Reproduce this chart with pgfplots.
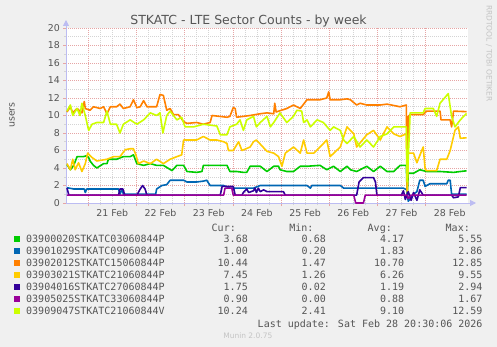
\documentclass[border=0pt]{standalone}
\usepackage{pgfplots}
\pgfplotsset{compat=1.18}
\usepackage{fontspec}
\setmainfont{DejaVu Sans}
\newfontfamily\monofont{DejaVu Sans Mono}
\usetikzlibrary{arrows.meta}

\definecolor{cgreen}{HTML}{00CC00}
\definecolor{cblue}{HTML}{0066B3}
\definecolor{corange}{HTML}{FF8000}
\definecolor{cyellow}{HTML}{FFCC00}
\definecolor{cdblue}{HTML}{330099}
\definecolor{cpurple}{HTML}{990099}
\definecolor{clime}{HTML}{CCFF00}
\definecolor{bgcol}{HTML}{F0F0F0}
\definecolor{txtcol}{HTML}{555555}
\definecolor{mgrid}{HTML}{E6A5A5}
\definecolor{ngrid}{HTML}{D4D4D4}
\definecolor{axcol}{HTML}{BCBCF2}
\definecolor{faint}{HTML}{C4C4C4}

\newcommand{\tickfont}{\fontsize{9.4}{11}\selectfont}
\newcommand{\legfont}{\monofont\fontsize{10}{12}\selectfont}

\begin{document}
\begin{tikzpicture}[x=1pt,y=1pt]
\fill[bgcol] (0pt,0pt) rectangle (497pt,-347pt);
\path[use as bounding box] (0pt,0pt) rectangle (497pt,-347pt);

\begin{axis}[
  at={(66pt,-203pt)}, anchor=south west,
  scale only axis, width=402pt, height=175pt,
  xmin=20.54, xmax=28.88, ymin=0, ymax=20,
  axis background/.style={fill=white},
  axis x line*=bottom, axis y line*=left,
  axis line style={draw=axcol, line width=0.8pt},
  x axis line style={-{Triangle[length=6pt,width=6pt]}, shorten >=-8pt},
  y axis line style={-{Triangle[length=6pt,width=6pt]}, shorten >=-8pt},
  xtick={21,...,28},
  xticklabels={21 Feb,22 Feb,23 Feb,24 Feb,25 Feb,26 Feb,27 Feb,28 Feb},
  minor x tick num=3,
  ytick={0,2,...,20}, minor y tick num=1,
  grid=both,
  major grid style={draw=mgrid, dash pattern=on 1pt off 1pt, line width=0.5pt},
  minor grid style={draw=ngrid, dash pattern=on 1pt off 1pt, line width=0.5pt},
  tick align=outside, major tick length=3pt, minor tick length=2pt,
  major tick style={draw=mgrid, line width=0.5pt},
  minor tick style={draw=ngrid, line width=0.5pt},
  /pgf/number format/assume math mode=true,
  x tick label style={font=\tickfont, text=txtcol, inner sep=0pt, anchor=north, xshift=24.1pt, yshift=-3pt},
  y tick label style={font=\tickfont, text=txtcol, inner sep=0pt, anchor=east, xshift=-3pt},
  every axis plot/.append style={line width=1.6pt, line join=round, no markers},
]
% 03900020STKATC03060844P
\addplot[cgreen] coordinates {(20.56,4.4)(20.63,3.8)(20.70,4.3)(20.77,5.3)(20.90,5.3)(20.97,5.4)(21.01,5.2)(21.04,4.8)(21.11,4.3)(21.18,4.0)(21.32,4.5)(21.39,4.5)(21.42,5.0)(21.59,5.0)(21.73,5.3)(21.87,5.3)(21.94,5.5)(22.01,4.5)(22.15,4.3)(22.29,4.5)(22.42,4.3)(22.56,4.3)(22.74,3.7)(22.84,4.3)(22.98,4.3)(23.05,3.6)(23.25,3.5)(23.36,3.6)(23.39,4.3)(23.67,4.3)(23.88,4.3)(23.94,3.6)(24.08,3.6)(24.22,3.5)(24.29,3.5)(24.36,4.2)(24.57,4.2)(24.71,3.6)(24.85,4.2)(24.95,4.2)(24.98,3.8)(25.12,3.6)(25.26,3.6)(25.40,4.2)(25.54,4.2)(25.81,4.3)(25.95,3.8)(26.09,4.2)(26.23,3.6)(26.37,4.2)(26.44,3.8)(26.57,3.6)(26.78,4.2)(26.92,3.6)(27.06,4.2)(27.20,3.6)(27.34,3.6)(27.47,4.3)(27.60,4.3)(27.62,0.68)(27.64,3.4)(27.75,3.4)(27.88,3.8)(28.02,3.6)(28.30,3.6)(28.58,3.5)(28.72,3.6)(28.85,3.68)};
% 03901029STKATC09060844P
\addplot[cblue] coordinates {(20.56,1.75)(20.70,1.6)(20.92,1.6)(20.94,1.2)(20.97,1.6)(21.18,1.6)(21.46,1.6)(21.63,1.6)(21.66,1.0)(21.70,1.6)(21.73,1.0)(22.40,1.0)(22.42,1.6)(22.53,2.0)(22.63,2.1)(22.70,2.6)(22.84,2.6)(22.98,2.6)(23.05,2.4)(23.25,2.4)(23.39,2.5)(23.46,2.6)(23.53,2.0)(23.81,2.0)(23.94,1.7)(24.22,1.7)(24.43,1.7)(24.57,2.0)(25.54,2.0)(25.61,1.7)(25.64,2.0)(26.23,2.0)(26.30,1.7)(27.54,1.7)(27.61,1.5)(27.64,0.2)(27.75,1.0)(27.82,1.3)(27.88,2.6)(27.95,2.6)(27.99,1.9)(28.09,2.2)(28.44,2.2)(28.47,2.6)(28.51,2.6)(28.54,1.0)(28.85,1.0)};
% 03902012STKATC15060844P
\addplot[corange] coordinates {(20.56,10.4)(20.63,11.0)(20.68,10.3)(20.77,10.8)(20.87,10.3)(20.92,11.6)(20.94,10.8)(21.04,10.6)(21.11,11.0)(21.25,10.8)(21.32,11.0)(21.39,10.2)(21.46,11.0)(21.59,11.0)(21.66,11.3)(21.73,10.8)(21.87,11.0)(21.94,11.8)(22.01,10.9)(22.08,11.0)(22.15,11.7)(22.22,11.0)(22.42,11.0)(22.49,12.4)(22.56,12.3)(22.63,10.6)(22.70,10.8)(22.77,10.1)(22.87,10.1)(22.98,9.3)(23.05,9.1)(23.25,9.2)(23.39,9.0)(23.53,9.2)(23.57,10.0)(23.88,9.8)(23.94,9.9)(24.01,10.9)(24.05,10.8)(24.08,9.8)(24.36,10.0)(24.57,10.2)(24.71,10.3)(24.85,10.2)(24.87,11.4)(24.90,10.4)(25.12,10.8)(25.26,11.2)(25.40,10.8)(25.54,11.8)(25.81,11.8)(25.95,12.0)(25.99,12.7)(26.02,11.8)(26.23,11.8)(26.37,11.9)(26.44,11.8)(26.57,11.2)(26.64,11.4)(26.78,11.2)(27.06,11.2)(27.20,11.3)(27.47,11.0)(27.60,11.2)(27.62,1.47)(27.64,9.9)(27.68,10.1)(27.95,10.1)(28.02,10.5)(28.30,10.5)(28.32,9.5)(28.51,9.5)(28.54,8.7)(28.58,10.5)(28.85,10.44)};
% 03903021STKATC21060844P
\addplot[cyellow] coordinates {(20.56,4.5)(20.63,3.8)(20.68,5.0)(20.73,3.8)(20.80,4.6)(20.87,3.6)(20.94,4.5)(20.99,5.7)(21.08,5.2)(21.18,4.8)(21.39,5.0)(21.53,5.3)(21.66,5.3)(21.77,6.1)(21.87,6.2)(21.94,6.2)(21.99,5.5)(22.04,4.5)(22.15,4.8)(22.29,4.5)(22.42,5.0)(22.56,4.5)(22.70,5.0)(22.84,5.3)(22.94,5.5)(22.98,7.2)(23.25,7.2)(23.39,7.6)(23.53,7.2)(23.67,7.2)(23.81,7.0)(23.88,6.8)(23.91,6.0)(24.01,6.0)(24.12,7.0)(24.19,6.0)(24.36,6.4)(24.43,7.0)(24.49,7.2)(24.71,5.9)(24.85,5.7)(24.95,5.3)(25.02,4.2)(25.09,5.7)(25.26,6.4)(25.40,5.7)(25.47,7.2)(25.54,5.7)(25.68,5.7)(25.81,6.4)(25.95,7.2)(26.02,5.3)(26.23,6.4)(26.37,8.7)(26.51,7.9)(26.57,6.4)(26.78,7.8)(26.92,8.3)(27.06,7.2)(27.20,8.7)(27.34,7.9)(27.47,7.6)(27.60,7.9)(27.62,1.26)(27.64,5.7)(27.75,5.7)(27.82,4.6)(27.95,6.4)(27.99,3.9)(28.02,3.7)(28.23,3.7)(28.30,5.0)(28.44,5.0)(28.51,6.0)(28.61,8.3)(28.68,8.7)(28.72,7.4)(28.85,7.45)};
% 03904016STKATC27060844P
\addplot[cdblue] coordinates {(20.56,1.7)(20.60,0.9)(21.63,0.9)(21.66,1.6)(21.72,1.6)(21.76,0.9)(22.01,0.9)(22.08,1.6)(22.13,2.0)(22.18,1.6)(22.22,0.9)(23.74,0.9)(23.78,1.9)(24.01,1.9)(24.05,0.9)(24.19,0.9)(24.22,1.2)(24.29,1.6)(24.33,1.2)(24.43,1.4)(24.46,1.7)(24.49,1.2)(24.53,1.7)(24.57,1.3)(24.64,1.5)(24.71,1.3)(24.78,1.3)(25.05,1.3)(25.09,0.9)(26.57,0.9)(26.62,2.4)(26.71,2.9)(26.92,2.9)(26.96,2.4)(26.99,0.9)(27.50,0.9)(27.54,1.4)(27.58,0.4)(27.64,1.3)(27.70,0.3)(27.75,1.2)(27.82,0.3)(27.88,1.5)(27.95,0.9)(28.54,0.9)(28.58,0.6)(28.68,0.7)(28.72,1.75)(28.85,1.75)};
% 03905025STKATC33060844P
\addplot[cpurple] coordinates {(20.56,0.9)(23.81,0.9)(23.84,1.7)(23.98,1.7)(24.01,0.9)(26.51,0.9)(26.55,0.0)(26.71,0.0)(26.75,0.9)(27.62,0.9)(27.64,0.5)(27.70,0.9)(28.85,0.9)};
% 03909047STKATC21060844V
\addplot[clime] coordinates {(20.56,10.5)(20.63,11.2)(20.68,10.0)(20.77,10.8)(20.83,10.0)(20.87,11.4)(20.94,10.0)(21.01,8.3)(21.08,9.0)(21.18,9.2)(21.32,9.2)(21.39,10.5)(21.46,9.0)(21.59,9.0)(21.66,8.0)(21.73,9.0)(21.87,9.5)(22.01,9.0)(22.15,9.5)(22.29,10.3)(22.42,10.0)(22.49,10.3)(22.55,8.0)(22.63,10.0)(22.70,10.5)(22.84,9.5)(22.94,9.8)(23.01,8.7)(23.19,8.7)(23.39,9.0)(23.67,8.8)(23.74,7.8)(23.88,7.8)(23.94,8.7)(24.08,9.0)(24.15,9.5)(24.22,8.3)(24.29,9.5)(24.43,9.9)(24.49,8.7)(24.57,9.2)(24.71,9.9)(24.78,8.7)(24.85,9.2)(24.98,10.3)(25.12,9.2)(25.26,9.9)(25.33,10.6)(25.43,10.5)(25.47,9.2)(25.54,9.5)(25.61,8.7)(25.75,9.5)(25.88,9.2)(26.02,8.3)(26.09,8.7)(26.23,8.3)(26.30,7.2)(26.37,6.8)(26.51,7.6)(26.64,6.4)(26.78,7.2)(26.92,6.4)(27.06,7.6)(27.20,7.9)(27.34,8.7)(27.60,8.7)(27.62,2.41)(27.68,10.3)(27.95,10.3)(27.99,10.8)(28.16,10.8)(28.23,9.9)(28.30,11.4)(28.47,12.5)(28.54,9.9)(28.61,8.7)(28.72,9.5)(28.85,10.24)};
\end{axis}

% title and side texts
\node[anchor=base, text=txtcol, font=\fontsize{12.5}{15}\selectfont, inner sep=0pt] at (248.5pt,-24.5pt) {STKATC - LTE Sector Counts - by week};
\node[rotate=90, text=txtcol, font=\tickfont, inner sep=0pt] at (12pt,-115pt) {users};
\node[rotate=-90, anchor=west, text=faint, font=\fontsize{7.5}{9}\selectfont, inner sep=0pt] at (489pt,-5pt) {RRDTOOL / TOBI OETIKER};

% legend table
\begin{scope}[every node/.style={inner sep=0pt, text=txtcol, font=\legfont}]
\node[anchor=base east] at (236pt,-231.3pt) {Cur:};
\node[anchor=base east] at (313.7pt,-231.3pt) {Min:};
\node[anchor=base east] at (392pt,-231.3pt) {Avg:};
\node[anchor=base east] at (470pt,-231.3pt) {Max:};
\foreach \c/\n/\cu/\mi/\av/\ma [count=\i from 0] in {
  cgreen/03900020STKATC03060844P/3.68/0.68/4.17/5.55,
  cblue/03901029STKATC09060844P/1.00/0.20/1.83/2.86,
  corange/03902012STKATC15060844P/10.44/1.47/10.70/12.85,
  cyellow/03903021STKATC21060844P/7.45/1.26/6.26/9.55,
  cdblue/03904016STKATC27060844P/1.75/0.02/1.19/2.94,
  cpurple/03905025STKATC33060844P/0.90/0.00/0.88/1.67,
  clime/03909047STKATC21060844V/10.24/2.41/9.10/12.59}{
  \pgfmathsetmacro{\yc}{-239.3-12*\i}
  \fill[\c] (14pt,\yc pt+3pt) rectangle (20pt,\yc pt-3pt);
  \node[anchor=base west] at (26pt,\yc pt-3.6pt) {\n};
  \node[anchor=base east] at (248pt,\yc pt-3.6pt) {\cu};
  \node[anchor=base east] at (326pt,\yc pt-3.6pt) {\mi};
  \node[anchor=base east] at (404.3pt,\yc pt-3.6pt) {\av};
  \node[anchor=base east] at (482.7pt,\yc pt-3.6pt) {\ma};
}
\node[anchor=base east] at (482.7pt,-327pt) {Last update: Sat Feb 28 20:30:06 2026};
\end{scope}
\node[text=faint, font=\fontsize{7.5}{9}\selectfont, inner sep=0pt] at (247.8pt,-336pt) {Munin 2.0.75};
\end{tikzpicture}
\end{document}
